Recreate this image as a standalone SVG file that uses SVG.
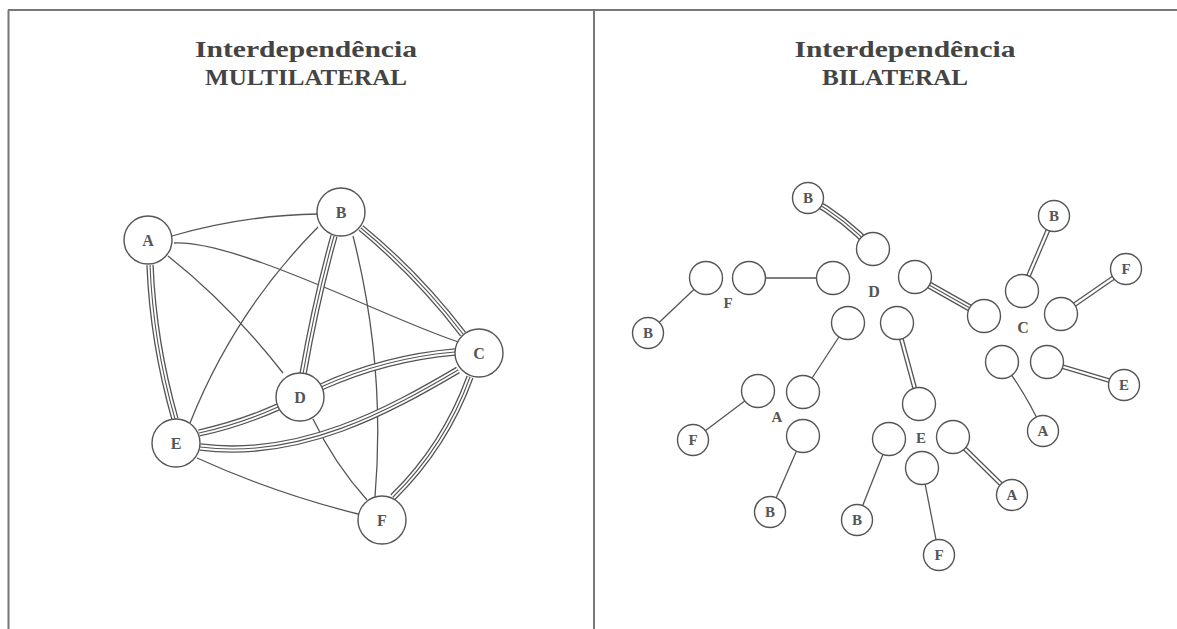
<svg xmlns="http://www.w3.org/2000/svg" width="1177" height="629" viewBox="0 0 1177 629">
<style>
.frame{stroke:#777;stroke-width:2;fill:none}
.title{font-family:"Liberation Serif",serif;font-weight:bold;font-size:24px;fill:#444;text-anchor:middle}
.lbl{font-family:"Liberation Serif",serif;font-weight:bold;fill:#555;text-anchor:middle}
.big{font-size:16px}
.sm{font-size:15px}
.n{fill:#fff;stroke:#555;stroke-width:1.4}
.s{fill:none;stroke:#555;stroke-width:1.3}
.t1{fill:none;stroke:#555;stroke-width:7.4}
.t2{fill:none;stroke:#fff;stroke-width:4.8}
.t3{fill:none;stroke:#555;stroke-width:1.1}
.d1{fill:none;stroke:#555;stroke-width:4.8}
.d2{fill:none;stroke:#fff;stroke-width:2.2}
</style>
<defs>
<path id="lAE" d="M150,265 Q153,342 175,419"/>
<path id="lBD" d="M334,236 Q316,300 303,374"/>
<path id="lBC" d="M361,228 Q418,275 463,334"/>
<path id="lDC" d="M321,387 Q385,358 455,352"/>
<path id="lED" d="M199,433 Q240,424 278,407"/>
<path id="lEC" d="M200,447 C300,460 390,410 458,370"/>
<path id="lCF" d="M470,377 Q445,446 393,497"/>
<path id="rBD" d="M808,198 Q846,219 873,249"/>
<path id="rDC" d="M915,277 L984,316"/>
<path id="rDE" d="M897,323 L919,404"/>
<path id="rCB" d="M1022,291 L1054,216"/>
<path id="rCF" d="M1061,314 L1126,269"/>
<path id="rCE" d="M1047,362 L1124,385"/>
<path id="rEA" d="M953,437 L1012,495"/>
</defs>
<rect width="1177" height="629" fill="#fff"/>
<g id="frame">
<line class="frame" x1="8" y1="10" x2="1177" y2="10"/>
<line class="frame" x1="8.5" y1="10" x2="8.5" y2="629"/>
<line class="frame" x1="594" y1="10" x2="594" y2="629"/>
</g>
<g id="titles">
<text class="title" x="306" y="57" textLength="222" lengthAdjust="spacingAndGlyphs">Interdependência</text>
<text class="title" x="306" y="85" textLength="202" lengthAdjust="spacingAndGlyphs">MULTILATERAL</text>
<text class="title" x="905" y="57" textLength="221" lengthAdjust="spacingAndGlyphs">Interdependência</text>
<text class="title" x="895" y="85" textLength="146" lengthAdjust="spacingAndGlyphs">BILATERAL</text>
</g>
<g id="connectors">
<path class="s" d="M172,236 Q245,215 318,214"/>
<path class="s" d="M174,243 C240,240 400,325 462,343"/>
<path class="s" d="M168,256 Q230,305 283,373"/>
<path class="s" d="M318,227 Q234,312 190,423"/>
<path class="s" d="M353,236 Q386,366 375,497"/>
<path class="s" d="M197,458 Q274,493 358,514"/>
<path class="s" d="M313,419 Q334,463 367,500"/>
<use href="#lAE" class="t1"/><use href="#lAE" class="t2"/><use href="#lAE" class="t3"/>
<use href="#lBD" class="t1"/><use href="#lBD" class="t2"/><use href="#lBD" class="t3"/>
<use href="#lBC" class="t1"/><use href="#lBC" class="t2"/><use href="#lBC" class="t3"/>
<use href="#lDC" class="t1"/><use href="#lDC" class="t2"/><use href="#lDC" class="t3"/>
<use href="#lED" class="t1"/><use href="#lED" class="t2"/><use href="#lED" class="t3"/>
<use href="#lEC" class="t1"/><use href="#lEC" class="t2"/><use href="#lEC" class="t3"/>
<use href="#lCF" class="t1"/><use href="#lCF" class="t2"/><use href="#lCF" class="t3"/>
<path class="s" d="M706,278 L648,333"/>
<path class="s" d="M749,278 L833,278"/>
<path class="s" d="M848,323 L803,392"/>
<path class="s" d="M1002,362 Q1026,393 1043,431"/>
<path class="s" d="M758,391 L693,440"/>
<path class="s" d="M803,436 L770,512"/>
<path class="s" d="M889,439 L857,520"/>
<path class="s" d="M922,468 L939,555"/>
<use href="#rBD" class="t1"/><use href="#rBD" class="t2"/><use href="#rBD" class="t3"/>
<use href="#rDC" class="t1"/><use href="#rDC" class="t2"/><use href="#rDC" class="t3"/>
<use href="#rDE" class="d1"/><use href="#rDE" class="d2"/>
<use href="#rCB" class="d1"/><use href="#rCB" class="d2"/>
<use href="#rCF" class="d1"/><use href="#rCF" class="d2"/>
<use href="#rCE" class="d1"/><use href="#rCE" class="d2"/>
<use href="#rEA" class="d1"/><use href="#rEA" class="d2"/>
</g>
<g id="mA"><circle class="n" cx="148" cy="240" r="24"/><text class="lbl big" x="148" y="246">A</text></g>
<g id="mB"><circle class="n" cx="341" cy="212" r="24"/><text class="lbl big" x="341" y="218">B</text></g>
<g id="mC"><circle class="n" cx="479" cy="353" r="24"/><text class="lbl big" x="479" y="359">C</text></g>
<g id="mD"><circle class="n" cx="300" cy="397" r="24"/><text class="lbl big" x="300" y="403">D</text></g>
<g id="mE"><circle class="n" cx="176" cy="443" r="24"/><text class="lbl big" x="176" y="449">E</text></g>
<g id="mF"><circle class="n" cx="382" cy="520" r="24"/><text class="lbl big" x="382" y="526">F</text></g>
<g id="clusterD">
<circle class="n" cx="873" cy="249" r="16.5"/>
<circle class="n" cx="833" cy="278" r="16.5"/>
<circle class="n" cx="915" cy="277" r="16.5"/>
<circle class="n" cx="848" cy="323" r="16.5"/>
<circle class="n" cx="897" cy="323" r="16.5"/>
<text class="lbl big" x="874" y="297">D</text>
</g>
<g id="clusterF">
<circle class="n" cx="706" cy="278" r="16.5"/>
<circle class="n" cx="749" cy="278" r="16.5"/>
<text class="lbl sm" x="728" y="308">F</text>
</g>
<g id="clusterC">
<circle class="n" cx="1022" cy="291" r="16.5"/>
<circle class="n" cx="984" cy="316" r="16.5"/>
<circle class="n" cx="1061" cy="314" r="16.5"/>
<circle class="n" cx="1002" cy="362" r="16.5"/>
<circle class="n" cx="1047" cy="362" r="16.5"/>
<text class="lbl big" x="1023" y="333">C</text>
</g>
<g id="clusterA">
<circle class="n" cx="758" cy="391" r="16.5"/>
<circle class="n" cx="803" cy="392" r="16.5"/>
<circle class="n" cx="803" cy="436" r="16.5"/>
<text class="lbl sm" x="777" y="422">A</text>
</g>
<g id="clusterE">
<circle class="n" cx="919" cy="404" r="16.5"/>
<circle class="n" cx="889" cy="439" r="16.5"/>
<circle class="n" cx="953" cy="437" r="16.5"/>
<circle class="n" cx="922" cy="468" r="16.5"/>
<text class="lbl sm" x="921" y="443">E</text>
</g>
<g id="rB1"><circle class="n" cx="808" cy="198" r="15.5"/><text class="lbl sm" x="808" y="203">B</text></g>
<g id="rB2"><circle class="n" cx="648" cy="333" r="15.5"/><text class="lbl sm" x="648" y="338">B</text></g>
<g id="rB3"><circle class="n" cx="1054" cy="216" r="15.5"/><text class="lbl sm" x="1054" y="221">B</text></g>
<g id="rF1"><circle class="n" cx="1126" cy="269" r="15.5"/><text class="lbl sm" x="1126" y="274">F</text></g>
<g id="rE1"><circle class="n" cx="1124" cy="385" r="15.5"/><text class="lbl sm" x="1124" y="390">E</text></g>
<g id="rA1"><circle class="n" cx="1043" cy="431" r="15.5"/><text class="lbl sm" x="1043" y="436">A</text></g>
<g id="rF2"><circle class="n" cx="693" cy="440" r="15.5"/><text class="lbl sm" x="693" y="445">F</text></g>
<g id="rB4"><circle class="n" cx="770" cy="512" r="15.5"/><text class="lbl sm" x="770" y="517">B</text></g>
<g id="rB5"><circle class="n" cx="857" cy="520" r="15.5"/><text class="lbl sm" x="857" y="525">B</text></g>
<g id="rF3"><circle class="n" cx="939" cy="555" r="15.5"/><text class="lbl sm" x="939" y="560">F</text></g>
<g id="rA2"><circle class="n" cx="1012" cy="495" r="15.5"/><text class="lbl sm" x="1012" y="500">A</text></g>
</svg>
